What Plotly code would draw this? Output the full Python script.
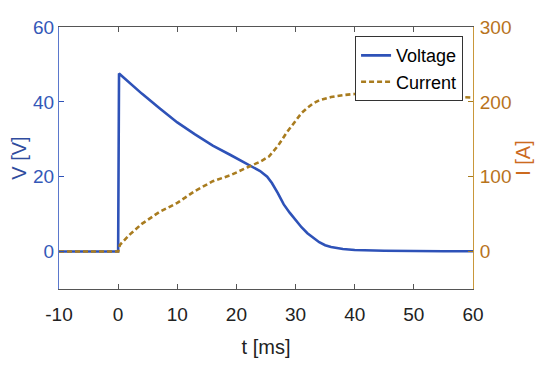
import plotly.graph_objects as go

# Voltage series (V) vs time (ms)
t_v = [-10, 0, 0.15, 1, 2, 4, 7, 10, 13, 16, 19, 22, 24, 25.2, 26, 27, 28, 29, 30,
       31, 32, 33, 34, 35, 36, 38, 40, 45, 50, 55, 60]
voltage = [0, 0, 47.6, 46.4, 45.0, 42.2, 38.3, 34.5, 31.3, 28.3, 25.8, 23.3, 21.5, 20.0,
           18.3, 15.6, 12.6, 10.4, 8.4, 6.5, 4.9, 3.6, 2.5, 1.7, 1.2, 0.7, 0.4, 0.2, 0.1, 0.1, 0.1]

# Current series (A) vs time (ms)
t_i = [-10, 0, 0.3, 1, 2, 4, 7, 10, 13, 16, 19, 22, 24, 25.5, 27, 28.5, 30, 31, 32, 33,
       34, 35, 36, 38, 40, 43, 46, 50, 55, 60]
current = [0, 0, 9, 15, 23, 37, 53, 65, 81, 94, 102, 113, 120, 127, 141, 159, 174, 185,
           192, 198, 202, 204.5, 206.5, 209, 210.5, 211, 211, 210, 208, 205.5]

x_ticks = [-10, 0, 10, 20, 30, 40, 50, 60]
x_labels = ["-10", "0", "10", "20", "30", "40", "50", "60"]
v_ticks = [0, 20, 40, 60]
i_ticks = [0, 100, 200, 300]

blue = "#2E52B8"
gold = "#A97C1F"
font = "Liberation Sans, Arial, sans-serif"

fig = go.Figure()
fig.add_trace(go.Scatter(x=t_v, y=voltage, name="Voltage", mode="lines",
                         line=dict(color=blue, width=2.6), yaxis="y"))
fig.add_trace(go.Scatter(x=t_i, y=current, name="Current", mode="lines",
                         line=dict(color=gold, width=2.6, dash="5px,3px"), yaxis="y2"))

fig.update_layout(
    width=542, height=365,
    margin=dict(l=51, r=77, t=19, b=84),
    paper_bgcolor="white", plot_bgcolor="white",
    font=dict(family=font, size=19, color="#222222"),
    showlegend=True,
    legend=dict(x=0.976, y=0.965, xanchor="right", yanchor="top",
                bgcolor="white", bordercolor="#333333", borderwidth=1,
                font=dict(family=font, size=18, color="black"),
                tracegroupgap=0, itemwidth=30),
    xaxis=dict(range=[-10, 60], tickvals=x_ticks, ticktext=x_labels, ticks="inside",
               ticklen=5, tickcolor="#555555", showline=True, linecolor="#555555",
               linewidth=1, mirror="ticks", showgrid=False, zeroline=False,
               automargin=False, ticklabelstandoff=8,
               tickfont=dict(family=font, size=19, color="#222222"),
               title=dict(text="t [ms]", font=dict(family=font, size=20, color="#222222"),
                          standoff=16)),
    yaxis=dict(range=[-10, 60], tickvals=v_ticks, ticks="inside", ticklen=5,
               tickcolor=blue, showline=True, linecolor="#5B78CC", linewidth=1,
               showgrid=False, zeroline=False, automargin=False,
               tickfont=dict(family=font, size=19, color="#3358B8"),
               title=dict(text="V [V]", font=dict(family=font, size=20, color="#2F4C9E"),
                          standoff=8)),
    yaxis2=dict(range=[-50, 300], tickvals=i_ticks, ticks="inside", ticklen=5,
                tickcolor=gold, showline=True, linecolor="#C9973A", linewidth=1,
                overlaying="y", side="right", showgrid=False, zeroline=False,
                automargin=False, ticklabelstandoff=2,
                tickfont=dict(family=font, size=19, color="#B8731C"),
                title=dict(text="I [A]", font=dict(family=font, size=20, color="#CC6A1E"),
                           standoff=3)),
)

fig.write_html("out.html")
